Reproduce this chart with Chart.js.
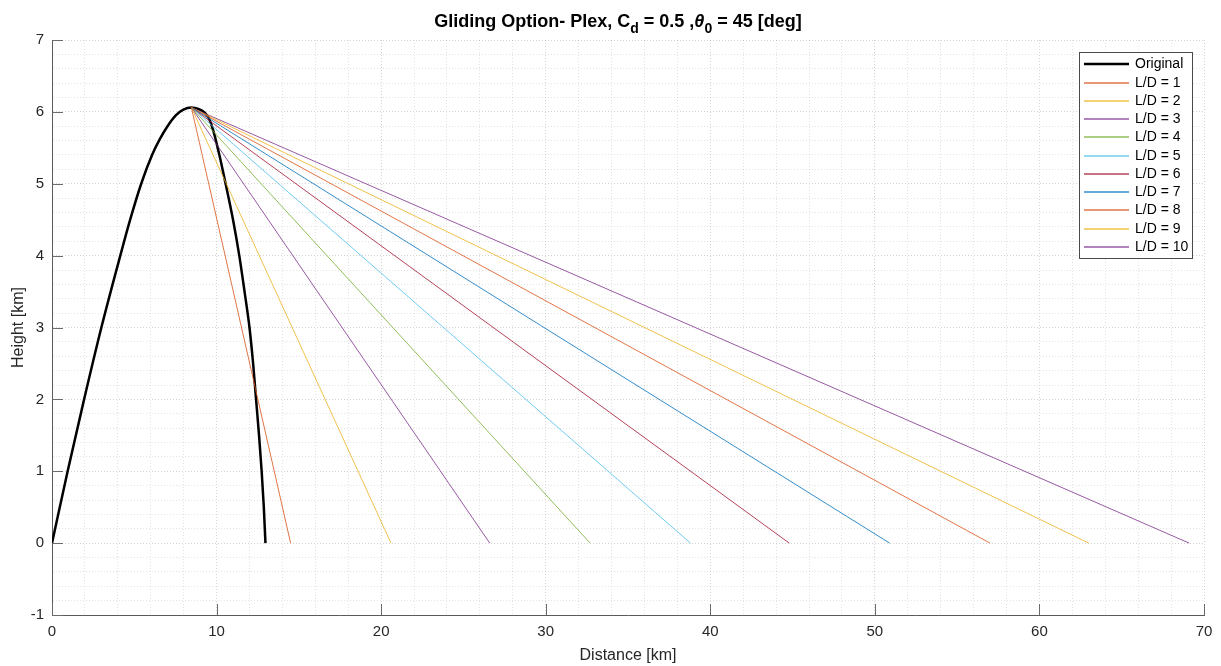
<!DOCTYPE html>
<html>
<head>
<meta charset="utf-8">
<script src="https://cdn.jsdelivr.net/npm/chart.js@4.4.1/dist/chart.umd.min.js"></script>
<style>
  html, body { margin: 0; padding: 0; background: #ffffff; }
  #wrap { width: 1221px; height: 666px; position: relative; }
</style>
</head>
<body>
<div id="wrap"><canvas id="c" width="1221" height="666"></canvas></div>
<script>
// Ballistic trajectory without gliding (distance / height, km)
const originalX = [0, 0.95, 1.95, 3.0, 4.15, 4.75, 5.42, 6.08, 6.55, 7.02, 7.52, 7.98, 8.47,
                   8.9, 9.28, 9.55, 9.8, 10.15, 10.55, 11.0, 11.38, 11.7, 12.0, 12.22, 12.4, 12.58, 12.74, 12.87, 12.97];
const originalY = [0, 1, 2, 3, 4, 4.5, 5, 5.4, 5.62, 5.8, 5.95, 6.03, 6.06,
                   6.04, 5.99, 5.9, 5.74, 5.42, 5.0, 4.5, 4.0, 3.5, 3.0, 2.5, 2.0, 1.5, 1.0, 0.5, 0];

// Glide legs start at the apogee and end on the ground
const apogeeX = 8.47;
const apogeeY = 6.06;
const liftToDrag = [1, 2, 3, 4, 5, 6, 7, 8, 9, 10];
const landingX = [14.5, 20.6, 26.6, 32.7, 38.8, 44.8, 50.9, 57.0, 63.0, 69.1];

// Axis tick values
const xMajorTicks = [0, 10, 20, 30, 40, 50, 60, 70];
const yMajorTicks = [-1, 0, 1, 2, 3, 4, 5, 6, 7];

const lineColors = ['rgba(217,83,25,0.8)', 'rgba(237,177,32,0.8)', 'rgba(126,47,142,0.8)', 'rgba(119,172,48,0.8)',
                    'rgba(77,190,238,0.8)', 'rgba(162,20,47,0.8)', 'rgba(0,114,189,0.8)', 'rgba(217,83,25,0.8)',
                    'rgba(237,177,32,0.8)', 'rgba(126,47,142,0.8)'];

const FONT = '"Liberation Sans", Arial, Helvetica, sans-serif';
const TEXT = '#262626';

const datasets = [{
  label: 'Original',
  data: originalX.map((x, i) => ({ x: x, y: originalY[i] })),
  borderColor: '#000000',
  borderWidth: 2.5,
  pointRadius: 0,
  cubicInterpolationMode: 'monotone',
  order: 2
}];
liftToDrag.forEach((r, i) => {
  datasets.push({
    label: 'L/D = ' + r,
    data: [{ x: apogeeX, y: apogeeY }, { x: landingX[i], y: 0 }],
    borderColor: lineColors[i],
    borderWidth: 1,
    pointRadius: 0,
    order: 1
  });
});

const isWhole = (v, step) => Math.abs(v / step - Math.round(v / step)) < 1e-6;

// Title, axis labels, inward tick marks and the boxed legend
const decor = {
  id: 'decor',
  afterDraw(chart) {
    const ctx = chart.ctx;
    const a = chart.chartArea;
    const xs = chart.scales.x, ys = chart.scales.y;
    ctx.save();

    // inward major tick marks
    ctx.strokeStyle = '#6a6a6a';
    ctx.lineWidth = 1;
    xMajorTicks.forEach(v => {
      const px = Math.round(xs.getPixelForValue(v)) + 0.5;
      ctx.beginPath(); ctx.moveTo(px, a.bottom); ctx.lineTo(px, a.bottom - 11); ctx.stroke();
    });
    yMajorTicks.forEach(v => {
      const py = Math.round(ys.getPixelForValue(v)) + 0.5;
      ctx.beginPath(); ctx.moveTo(a.left, py); ctx.lineTo(a.left + 11, py); ctx.stroke();
    });

    // title with subscripts
    const big = 'bold 18px ' + FONT, small = 'bold 14px ' + FONT;
    const parts = [
      ['Gliding Option- Plex, C', big, 0],
      ['d', small, 6],
      [' = 0.5 ,', big, 0],
      ['\u03B8', 'italic bold 18px ' + FONT, 0],
      ['0', small, 6],
      [' = 45 [deg]', big, 0]
    ];
    let total = 0;
    parts.forEach(p => { ctx.font = p[1]; total += ctx.measureText(p[0]).width; });
    let tx = 618 - total / 2;
    const ty = 27;
    ctx.fillStyle = '#000000';
    ctx.textBaseline = 'alphabetic';
    ctx.textAlign = 'left';
    parts.forEach(p => {
      ctx.font = p[1];
      ctx.fillText(p[0], tx, ty + p[2]);
      tx += ctx.measureText(p[0]).width;
    });

    // axis titles
    ctx.fillStyle = TEXT;
    ctx.font = '16px ' + FONT;
    ctx.textAlign = 'center';
    ctx.textBaseline = 'middle';
    ctx.fillText('Distance [km]', (a.left + a.right) / 2, 656);
    ctx.save();
    ctx.translate(19, (a.top + a.bottom) / 2);
    ctx.rotate(-Math.PI / 2);
    ctx.fillText('Height [km]', 0, 0);
    ctx.restore();

    // legend
    const lx = 1079, ly = 52, lw = 113, lh = 206;
    ctx.fillStyle = '#ffffff';
    ctx.fillRect(lx, ly, lw, lh);
    ctx.strokeStyle = '#4a4a4a';
    ctx.lineWidth = 1;
    ctx.strokeRect(lx + 0.5, ly + 0.5, lw, lh);
    ctx.font = '14px ' + FONT;
    ctx.textAlign = 'left';
    ctx.textBaseline = 'middle';
    chart.data.datasets.forEach((ds, i) => {
      const y = Math.round(64.3 + i * 18.27);
      ctx.strokeStyle = ds.borderColor;
      ctx.lineWidth = i === 0 ? 2.5 : 1.5;
      ctx.beginPath(); ctx.moveTo(1084, y); ctx.lineTo(1129, y); ctx.stroke();
      ctx.fillStyle = '#000000';
      ctx.fillText(ds.label, 1135, y);
    });
    ctx.restore();
  }
};

new Chart(document.getElementById('c'), {
  type: 'line',
  data: { datasets: datasets },
  options: {
    responsive: false,
    animation: false,
    events: [],
    layout: { padding: { left: 0, right: 17, top: 40, bottom: 0 } },
    plugins: { legend: { display: false }, title: { display: false }, tooltip: { enabled: false } },
    scales: {
      x: {
        type: 'linear',
        min: 0, max: 70,
        afterFit: s => { s.height = 51; },
        ticks: {
          stepSize: 2, autoSkip: false, maxRotation: 0, maxTicksLimit: 100,
          padding: 8,
          color: TEXT,
          font: { family: FONT, size: 15 },
          callback: v => isWhole(v, 10) ? String(Math.round(v)) : ''
        },
        grid: {
          drawTicks: false,
          color: c => isWhole(c.tick.value, 10) ? 'rgba(0,0,0,0.17)' : 'rgba(0,0,0,0.11)',
          lineWidth: 1
        },
        border: { display: true, color: '#5a5a5a', width: 1, dash: [1, 2] }
      },
      y: {
        type: 'linear',
        min: -1, max: 7,
        afterFit: s => { s.width = 52; },
        ticks: {
          stepSize: 0.2, autoSkip: false, maxTicksLimit: 100,
          padding: 8,
          color: TEXT,
          font: { family: FONT, size: 15 },
          callback: v => isWhole(v, 1) ? String(Math.round(v)) : ''
        },
        grid: {
          drawTicks: false,
          color: c => isWhole(c.tick.value, 1) ? 'rgba(0,0,0,0.17)' : 'rgba(0,0,0,0.11)',
          lineWidth: 1
        },
        border: { display: true, color: '#5a5a5a', width: 1, dash: [1, 2] }
      }
    }
  },
  plugins: [decor]
});
</script>
</body>
</html>
